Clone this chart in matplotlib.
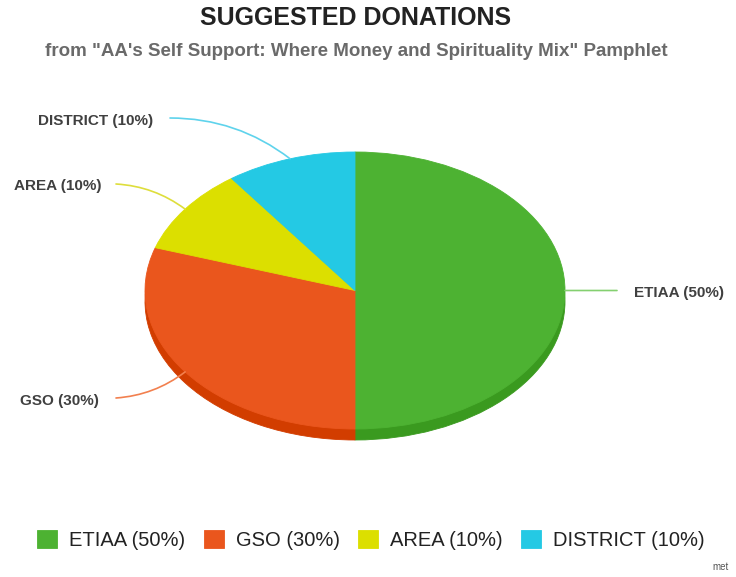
import numpy as np
import matplotlib
matplotlib.use('Agg')
from matplotlib import pyplot as plt

# === Data ===
categories = ['ETIAA', 'GSO', 'AREA', 'DISTRICT']
shares = [50, 30, 10, 10]
colors = ['#4db232', '#ea561d', '#dcdf00', '#24c9e4']
side_colors = ['#3a9a1f', '#d23d00', '#b5b800', '#1aa6bf']
line_colors = ['#84d070', '#f2804f', '#dede3c', '#5fd3ec']

# label text anchors / leader line starts (pixels, from top-left)
label_pos = [(634, 293, 'left'), (99, 401, 'right'), (102, 186, 'right'), (153, 121, 'right')]
line_start = [(617, 290.5), (116, 398), (116, 184), (170, 118)]
line_rad = [0.0, 0.15, -0.15, -0.17]

W, H = 736, 577
cx, cy, rx, ry = 355, 290.5, 210, 138.5
depth = 11
lim = 1.2

plt.rcParams['font.family'] = ['Liberation Sans', 'DejaVu Sans']

fig = plt.figure(figsize=(W / 100, H / 100), dpi=100)

# ===== Pie (elliptical, with a little depth)
axp = fig.add_axes([(cx - lim * rx) / W, (H - cy - lim * ry) / H,
                    2 * lim * rx / W, 2 * lim * ry / H])
side, _ = axp.pie(shares, colors=side_colors, startangle=90, counterclock=False,
                  center=(0, -depth / ry), wedgeprops={'linewidth': 0.6})
top, _ = axp.pie(shares, colors=colors, startangle=90, counterclock=False,
                 wedgeprops={'linewidth': 0.6})
for w in list(side) + list(top):
    w.set_edgecolor(w.get_facecolor())
axp.set_aspect('auto')
axp.set_xlim(-lim, lim)
axp.set_ylim(-lim, lim)
axp.axis('off')

# ===== Overlay in pixel coordinates
ax = fig.add_axes([0, 0, 1, 1])
ax.set_xlim(0, W)
ax.set_ylim(H, 0)
ax.axis('off')

fig.text(356 / W, 1 - 18 / H, 'SUGGESTED DONATIONS', ha='center', va='center',
         fontsize=18, fontweight='bold', color='#222222')
fig.text(356 / W, 1 - 51 / H,
         'from "AA\'s Self Support: Where Money and Spirituality Mix" Pamphlet',
         ha='center', va='center', fontsize=13.5, fontweight='bold', color='#6a6a6a')

for i, w in enumerate(top):
    mid = np.deg2rad((w.theta1 + w.theta2) / 2)
    ex = cx + rx * np.cos(mid)
    ey = cy - ry * np.sin(mid)
    ax.annotate('', xy=(ex, ey), xytext=line_start[i],
                arrowprops=dict(arrowstyle='-', color=line_colors[i], lw=1.2,
                                shrinkA=0, shrinkB=0,
                                connectionstyle='arc3,rad=%s' % line_rad[i]))
    tx, ty, ha = label_pos[i]
    ax.text(tx, ty, '%s (%d%%)' % (categories[i], shares[i]), ha=ha, va='center',
            fontsize=11, fontweight='bold', color='#404040')

fig.legend(top, ['%s (%d%%)' % (c, s) for c, s in zip(categories, shares)],
           loc='center', bbox_to_anchor=(371 / W, 1 - 540 / H), ncol=4,
           frameon=False, fontsize=14.5, handlelength=1.0, handleheight=1.0,
           handletextpad=0.6, columnspacing=0.9, labelcolor='#222222')

fig.text(712 / W, 1 - 567 / H, 'met', fontsize=7, color='#555555', ha='left', va='center')

fig.savefig('out.png', dpi=100)
